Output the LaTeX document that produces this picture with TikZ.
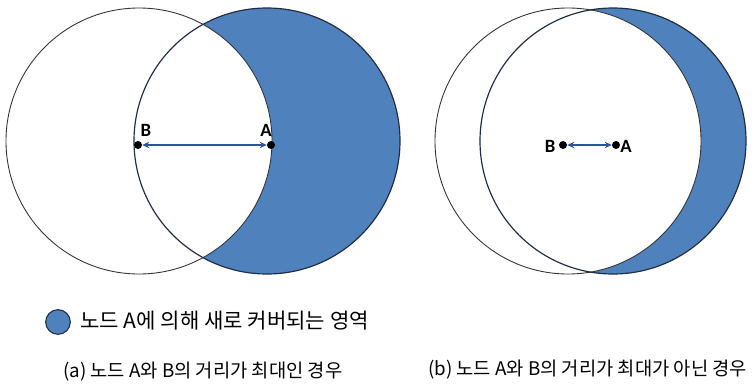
\documentclass[tikz,border=0pt]{standalone}
\usepackage{fontspec}
\setmainfont{Noto Sans CJK KR}
\newfontfamily\labelfont{Carlito}
\usetikzlibrary{arrows.meta}
\definecolor{coverblue}{RGB}{79,129,189}
\definecolor{rimnavy}{RGB}{32,44,66}
\definecolor{linkblue}{RGB}{47,85,151}
\begin{document}
\begin{tikzpicture}[x=0.03cm,y=-0.03cm,
    dot/.style={circle, fill=black, inner sep=0pt, minimum size=0.24cm},
    lbl/.style={inner sep=0pt, font=\labelfont\bfseries\fontsize{16}{18}\selectfont},
    link/.style={{Stealth[length=6pt,width=5.5pt]}-{Stealth[length=6pt,width=5.5pt]}, linkblue, line width=1.4pt},
    ring/.style={draw=black!80, line width=0.75pt},
    rim/.style={draw=rimnavy, line width=1pt},
    capt/.style={anchor=west, inner sep=0pt, font=\fontsize{16}{19}\selectfont}]
    \useasboundingbox[fill=white] (0,0) rectangle (756,384);
    \fill[coverblue] (267,141) circle[radius=133];
    \fill[white] (139,141) circle[radius=133];
    \draw[ring] (139,141) circle[radius=133];
    \draw[rim] (267,141) circle[radius=133];
    \node[dot] (Ba) at (138,145) {};
    \node[dot] (Aa) at (271,145) {};
    \draw[link] (Ba) -- (Aa);
    \node[lbl] (labBa) at (146,130) {B};
    \node[lbl] (labAa) at (266,130) {A};
    \fill[coverblue] (613,141) circle[radius=133];
    \fill[white] (568,141) circle[radius=133];
    \draw[ring] (568,141) circle[radius=133];
    \draw[rim] (613,141) circle[radius=133];
    \node[dot] (Bb) at (563,145) {};
    \node[dot] (Ab) at (616,145) {};
    \draw[link] (Bb) -- (Ab);
    \node[lbl] (labBb) at (550,146) {B};
    \node[lbl] (labAb) at (626,146) {A};
    \node[circle, fill=coverblue, draw=rimnavy, line width=0.9pt, minimum size=0.74cm, inner sep=0pt] (key) at (58,322) {};
    \node[capt, font=\fontsize{18}{21}\selectfont] (keytext) at (80,321) {노드 A에 의해 새로 커버되는 영역};
    \node[capt] (capa) at (63,372) {(a) 노드 A와 B의 거리가 최대인 경우};
    \node[capt] (capb) at (428,370) {(b) 노드 A와 B의 거리가 최대가 아닌 경우};
\end{tikzpicture}
\end{document}
